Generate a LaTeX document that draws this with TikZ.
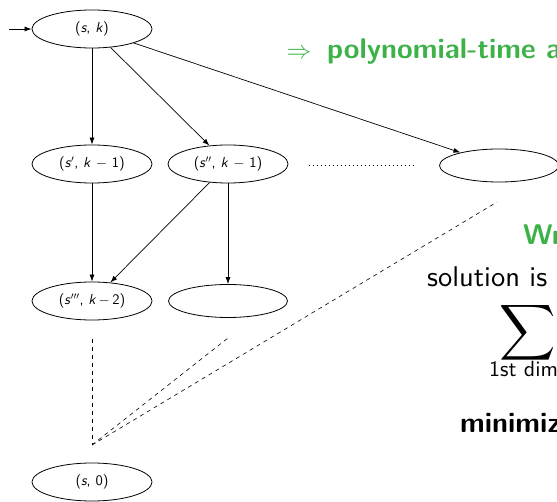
\documentclass[tikz,border=0pt]{standalone}
\usepackage{fontspec}
\usepackage{graphicx}
\setsansfont{lmsans10}[Extension=.otf,UprightFont=*-regular,BoldFont=*-bold,ItalicFont=*-oblique,BoldItalicFont=*-boldoblique]
\usetikzlibrary{arrows.meta,shapes.geometric}
\renewcommand{\familydefault}{\sfdefault}
\definecolor{hlgreen}{RGB}{60,178,72}
\newcommand{\vv}[1]{\textit{#1}}
\begin{document}
\begin{tikzpicture}[x=1pt,y=-1pt,
  st/.style={ellipse,draw,line width=0.8pt,minimum width=120pt,minimum height=38pt,inner sep=0pt,font=\fontsize{14.5}{17}\selectfont},
  emp/.style={ellipse,draw,line width=0.8pt,minimum width=119pt,minimum height=33pt,inner sep=0pt},
  arr/.style={-{Latex[length=7pt,width=5pt]},line width=0.7pt},
  dsh/.style={dash pattern=on 4pt off 4pt,line width=0.6pt},
  dot/.style={dash pattern=on 1pt off 3pt,line width=0.8pt},
  big/.style={font=\fontsize{28.5}{34}\selectfont,anchor=base west,inner sep=0pt}]
\useasboundingbox (0,0) rectangle (557,502);
\clip (0,0) rectangle (557,502);
% nodes
\node[st] (sk) at (92,29) {(\vv{s}, \vv{k})};
\node[st] (s1) at (92,164) {(\vv{s}$'$, \vv{k} $-$ 1)};
\node[st] (s2) at (228,164) {(\vv{s}$''$, \vv{k} $-$ 1)};
\node[emp] (r1) at (499,165.5) {};
\node[st] (s3) at (92,301) {(\vv{s}$'''$, \vv{k}$\,-\,$2)};
\node[emp] (e2) at (228,301) {};
\node[st] (s0) at (92,482) {(\vv{s}, 0)};
% coordinates
\coordinate (in) at (9,29);
\coordinate (d1) at (309,165);
\coordinate (d2) at (417,165);
\coordinate (v1) at (92,339);
\coordinate (m) at (92,445);
\coordinate (c1) at (228,338);
\coordinate (c2) at (497,202);
% edges
\draw[arr] (in) -- (sk);
\draw[arr] (sk) -- (s1);
\draw[arr] (sk) -- (s2);
\draw[arr] (sk) -- (r1);
\draw[arr] (s1) -- (s3);
\draw[arr] (s2) -- (s3);
\draw[arr] (s2) -- (e2);
\draw[dot] (d1) -- (d2);
\draw[dsh] (v1) -- (m);
\draw[dsh] (m) -- (c1);
\draw[dsh] (m) -- (c2);
% text
\node[big,text=hlgreen] (t1) at (286.5,59) {$\Rightarrow$\hspace{15.5pt}\textbf{polynomial-time algorithm}};
\node[big,text=hlgreen] (t2) at (523,245) {\textbf{Write}};
\node[big] (t3) at (427,287) {solution is};
\node[inner sep=0pt] (t4) at (527.5,332.5) {\resizebox{!}{41pt}{$\displaystyle\sum$}};
\node[big,font=\fontsize{22}{26}\selectfont] (t5) at (489,377) {1st dim};
\node[big] (t6) at (460,433) {\textbf{minimize}};
\end{tikzpicture}
\end{document}
